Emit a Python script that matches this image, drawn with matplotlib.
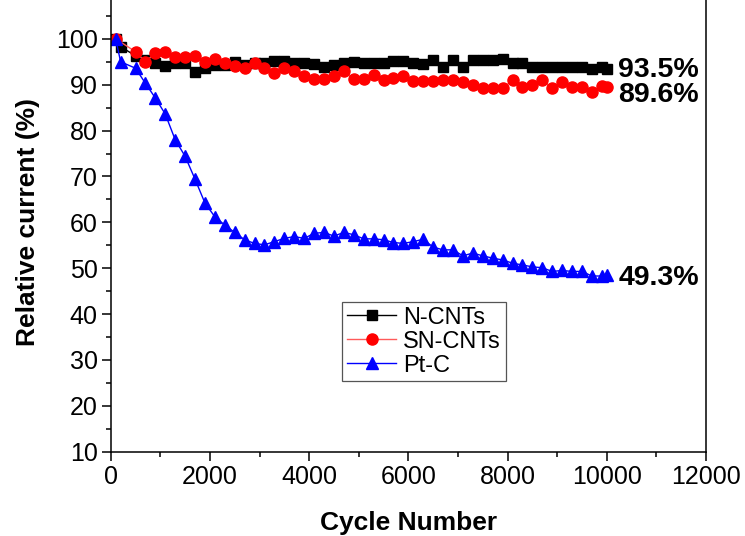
import matplotlib
matplotlib.use("Agg")
import matplotlib.pyplot as plt
from matplotlib.ticker import MultipleLocator

plt.rcParams['font.family'] = ['Liberation Sans', 'DejaVu Sans']

# ─── Data ───────────────────────────────────────────────────────────────
cycles = [100, 500, 700, 900, 1100, 1300, 1500, 1700, 1900, 2100, 2300,
          2500, 2700, 2900, 3100, 3300, 3500, 3700, 3900, 4100, 4300, 4500,
          4700, 4900, 5100, 5300, 5500, 5700, 5900, 6100, 6300, 6500, 6700,
          6900, 7100, 7300, 7500, 7700, 7900, 8100, 8300, 8500, 8700, 8900,
          9100, 9300, 9500, 9700, 9900, 10000]
cycles_early = [100, 200] + cycles[1:]

n_cnts = [100, 98.3, 96.3, 95.4, 94.7, 94.1, 94.7, 94.7, 92.8, 93.6, 94.3,
          94.3, 95.0, 94.3, 94.7, 94.7, 95.2, 95.2, 94.7, 94.7, 94.5, 93.8,
          94.3, 94.7, 95.0, 94.7, 94.7, 94.7, 95.2, 95.2, 94.7,
          94.5, 95.3, 93.8, 95.3, 93.8, 95.3, 95.3, 95.3, 95.7, 94.7, 94.7,
          93.8, 93.8, 93.8, 93.8, 93.8, 93.8, 93.4, 93.8, 93.5]

sn_cnts = [100, 97.2, 95.0, 96.9, 97.2, 96.0, 96.0, 96.3, 95.0, 95.6, 94.7,
           94.0, 93.6, 94.7, 93.6, 92.6, 93.6, 92.9, 91.8, 91.2, 91.2, 91.8,
           92.9, 91.2, 91.2, 92.1, 91.0, 91.4, 91.9, 90.9,
           90.9, 90.9, 91.0, 91.0, 90.5, 90.0, 89.2, 89.2, 89.2, 91.0, 89.6,
           90.0, 91.0, 89.2, 90.7, 89.6, 89.6, 88.5, 89.8, 89.6]

pt_c = [100, 95.0, 93.6, 90.3, 87.1, 83.6, 78.0, 74.4, 69.4, 64.2, 61.2,
        59.4, 57.8, 56.2, 55.4, 55.1, 55.8, 56.5, 56.9, 56.5, 57.6, 57.8,
        57.0, 57.8, 57.3, 56.4, 56.4, 56.2, 55.6, 55.4, 55.8,
        56.3, 54.6, 54.0, 54.0, 52.7, 53.3, 52.7, 52.2, 51.8, 51.1, 50.7,
        50.3, 50.1, 49.3, 49.5, 49.3, 49.3, 48.3, 48.3, 48.5]

end_labels = ["93.5%", "89.6%", "49.3%"]
end_label_y = [93.2, 87.8, 47.9]
end_label_x = 10230
# ────────────────────────────────────────────────────────────────────────

fig = plt.figure(figsize=(7.45, 5.36), dpi=100)
ax = fig.add_axes([0.1486, 0.1573, 0.799, 0.8558])

ax.plot(cycles_early, n_cnts, color="black", linewidth=1.0,
        marker="s", markersize=7, markerfacecolor="black",
        markeredgecolor="black", label="N-CNTs")
ax.plot(cycles, sn_cnts, color="#ff5a5a", linewidth=1.0,
        marker="o", markersize=8, markerfacecolor="red",
        markeredgecolor="red", label="SN-CNTs")
ax.plot(cycles_early, pt_c, color="blue", linewidth=1.0,
        marker="^", markersize=8.5, markerfacecolor="blue",
        markeredgecolor="blue", label="Pt-C")

for txt, yv in zip(end_labels, end_label_y):
    ax.text(end_label_x, yv, txt, ha="left", va="center",
            fontsize=20.5, fontweight="bold")

ax.set_xlim(0, 12000)
ax.set_ylim(10, 110)
ax.set_xticks(range(0, 12001, 2000))
ax.set_yticks(range(10, 101, 10))
ax.xaxis.set_minor_locator(MultipleLocator(1000))
ax.yaxis.set_minor_locator(MultipleLocator(5))
ax.tick_params(which="major", direction="out", length=6.5, width=1.1,
               labelsize=18, pad=3)
ax.tick_params(which="minor", direction="out", length=3.5, width=1.1)
ax.tick_params(top=False, right=False, which="both")
for sp in ax.spines.values():
    sp.set_linewidth(1.1)

ax.set_xlabel("Cycle Number", fontsize=19, fontweight="bold", labelpad=16)
ax.set_ylabel("Relative current (%)", fontsize=19, fontweight="bold",
              labelpad=11)

leg = fig.legend(loc="upper left", bbox_to_anchor=(342 / 745, 1 - 302 / 536),
                 fontsize=17, frameon=True, fancybox=False, framealpha=1,
                 edgecolor="#555555", handlelength=2.1, handletextpad=0.3,
                 labelspacing=0.08, borderpad=0.2, borderaxespad=0)
leg.get_frame().set_linewidth(0.9)

fig.savefig("out.png", dpi=100)
